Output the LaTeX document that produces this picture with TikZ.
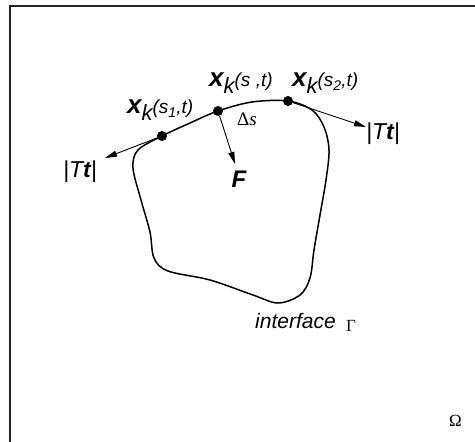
\documentclass[tikz,border=0pt]{standalone}
\usepackage{fontspec}
\setmainfont{Liberation Sans}
\newfontfamily\serifgr{Liberation Serif}
\usetikzlibrary{arrows.meta}
\newcommand{\fs}[1]{\fontsize{#1}{#1}\selectfont}
\newcommand{\sbx}[1]{\lower4pt\hbox{\fs{14}\itshape #1}}
\newcommand{\xlab}[1]{{\fs{26}\bfseries\itshape x}\lower7pt\hbox{\fs{22}\itshape k}{\fs{19}\itshape #1}}
\begin{document}
\begin{tikzpicture}[x=1pt,y=-1pt,
  dotnode/.style={circle,fill=black,inner sep=0pt,minimum size=10pt},
  vec/.style={line width=0.9pt,-{Triangle[length=12pt,width=6pt]}},
  lab/.style={inner sep=0pt,anchor=base west}]
\useasboundingbox (0,0) rectangle (475,442);
\draw[line width=2pt,black!85] (10,442) -- (10,6) -- (475,6);
\draw[line width=1.5pt] plot[smooth cycle,tension=0.55] coordinates {
 (162,136) (190,123) (218,111) (252,102) (288,101) (312,110) (324,127)
 (329,150) (326,180) (320,215) (314,250) (310,278) (300,295) (278,303)
 (253,295) (210,280) (168,271) (154,258) (150,232) (141,200) (133,168) (138,150)};
\node[dotnode] (d1) at (162,136) {};
\node[dotnode] (d2) at (218,111) {};
\node[dotnode] (d3) at (288,101) {};
\coordinate (t1) at (105,158);
\coordinate (t3) at (366,127);
\coordinate (fe) at (235,164);
\draw[vec] (d1) -- (t1);
\draw[vec] (d3) -- (t3);
\draw[vec] (d2) -- (fe);
\node[lab] (l1) at (127,113) {\xlab{(s\sbx{1},t)}};
\node[lab] (l2) at (209,86) {\xlab{(s ,t)}};
\node[lab] (l3) at (292,86) {\xlab{(s\sbx{2},t)}};
\node[lab] (ds) at (237,125) {\fs{19}\serifgr Δ\itshape s};
\node[inner sep=0pt,anchor=base] (F) at (239,187) {\fs{24}\bfseries\itshape F};
\node[lab] (T1) at (63,177) {\fs{23}\itshape |T{\bfseries t}|};
\node[lab] (T3) at (366,139) {\fs{23}\itshape |T{\bfseries t}|};
\node[lab] (ifc) at (255,328) {\fs{21}\itshape interface};
\node[lab] (G) at (346,331) {\fs{17}\serifgr Γ};
\node[lab] (O) at (449,426) {\fs{17}\serifgr Ω};
\end{tikzpicture}
\end{document}
